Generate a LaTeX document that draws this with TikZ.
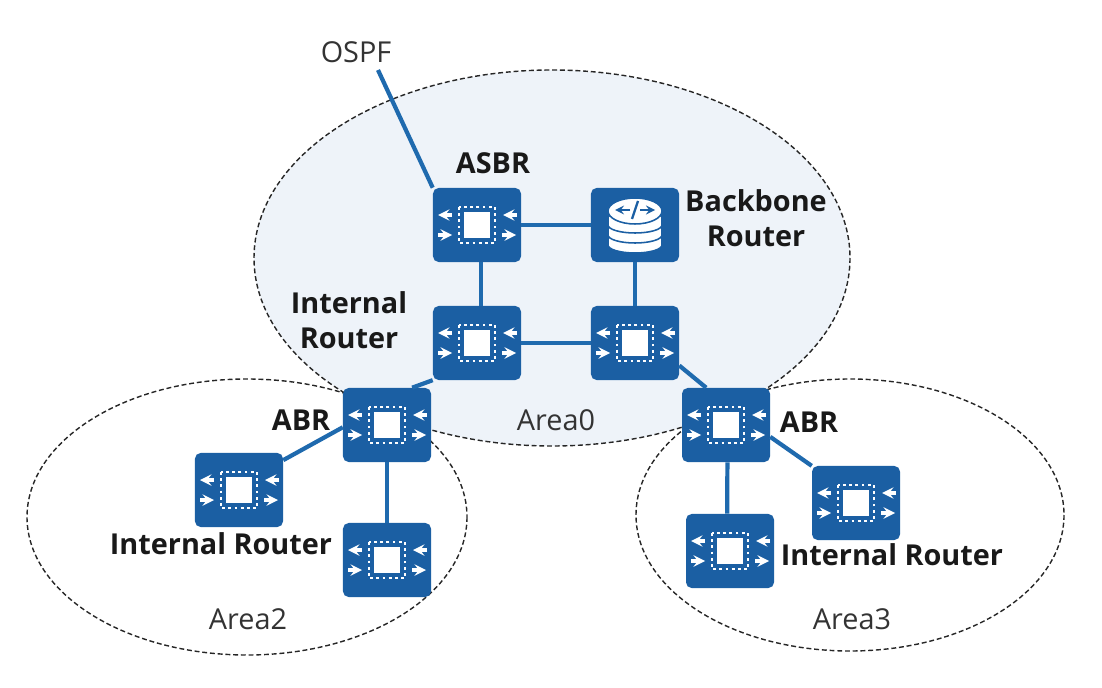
\documentclass[tikz,border=0pt]{standalone}
\usepackage{fontspec}
\setmainfont{Open Sans}
\usetikzlibrary{arrows}
\definecolor{hwblue}{HTML}{1B5FA3}
\definecolor{linkblue}{HTML}{1F6AAE}
\definecolor{areafill}{HTML}{EEF3F9}
% icon inside a router box
\newcommand{\chipicon}{
  \begin{scope}[sharp corners, shift={(path picture bounding box.center)}]
    \fill[white] (-13,-13) rectangle (13,13);
    \draw[white, line width=1.6pt, dash pattern=on 2pt off 2.4pt] (-18,-18) rectangle (18,18);
    \draw[wharrow] (-25,-10) -- (-39,-10);
    \draw[wharrow] (-39,10) -- (-25,10);
    \draw[wharrow] (40,-10) -- (26,-10);
    \draw[wharrow] (25,10) -- (39,10);
  \end{scope}
}
\newcommand{\stackicon}{
  \begin{scope}[sharp corners, shift={(path picture bounding box.center)}]
    \foreach \h in {13,3,-7} {
      \fill[white, draw=hwblue, line width=1.1pt] (-27,\h) -- (-27,\h+7) arc[start angle=180, end angle=0, x radius=27, y radius=8] -- (27,\h) arc[start angle=0, end angle=-180, x radius=27, y radius=8] -- cycle;
    }
    \fill[white, draw=hwblue, line width=1.1pt] (0,-14) ellipse[x radius=27, y radius=13];
    \draw[blarrow] (-5,-15) -- (-20,-15);
    \draw[blarrow] (5,-15) -- (20,-15);
    \draw[hwblue, line width=1.6pt] (3,-24) -- (-3,-6);
  \end{scope}
}
\tikzstyle{wharrow} = [white, line width=2.5pt, ->, >=stealth]
\tikzstyle{blarrow} = [hwblue, line width=1.8pt, ->, >=stealth]
\tikzstyle{router} = [rectangle, rounded corners=4pt, minimum width=2.2cm, minimum height=1.85cm, inner sep=0pt, fill=hwblue, path picture={\chipicon}]
\tikzstyle{backbone} = [rectangle, rounded corners=4pt, minimum width=2.2cm, minimum height=1.85cm, inner sep=0pt, fill=hwblue, path picture={\stackicon}]
\tikzstyle{area} = [draw=black!85, line width=1pt, dash pattern=on 3.5pt off 2pt]
\tikzstyle{link} = [linkblue, line width=3pt]
\tikzstyle{tag} = [font=\fontsize{20.5}{25}\selectfont\bfseries, text=black!90, align=center, inner sep=0pt]
\tikzstyle{arealabel} = [font=\fontsize{20.5}{26}\selectfont, text=black!80, inner sep=0pt]

\begin{document}
\begin{tikzpicture}[x=0.025cm, y=-0.025cm]
\useasboundingbox (0,0) rectangle (1102,688);

% areas
\draw[area, fill=areafill] (552,258) ellipse[x radius=298, y radius=188];
\draw[area] (247,517) ellipse[x radius=220, y radius=138];
\draw[area] (850,515) ellipse[x radius=214, y radius=136];

% routers
\node [router] (asbr) at (477,225) {};
\node [backbone] (bbone) at (635,225) {};
\node [router] (inner1) at (477,343) {};
\node [router] (inner2) at (635,343) {};
\node [router] (abr2) at (387,425) {};
\node [router] (abr3) at (726,425) {};
\node [router] (left2) at (239,490) {};
\node [router] (low2) at (387,560) {};
\node [router] (right3) at (856,503) {};
\node [router] (low3) at (730,551) {};

% links
\node [arealabel] (ospf) at (356,52) {OSPF};
\coordinate (ospfend) at (378,70);
\draw [link] (ospfend) -- (asbr.north west);
\draw [link] (asbr) -- (bbone);
\draw [link] ([xshift=3pt]asbr.south) -- ([xshift=3pt]inner1.north);
\draw [link] (bbone) -- (inner2);
\draw [link] (inner1) -- (inner2);
\draw [link] (inner1.220) -- (abr2.56);
\draw [link] (inner2.-27) -- (abr3.118);
\draw [link] (abr2.183) -- (left2.34);
\draw [link] (abr2) -- (low2);
\draw [link] (abr3.-15) -- (right3.140);
\draw [link] ([xshift=1pt]abr3.south) -- ([xshift=-2pt]low3.north);

% labels
\node [tag] (asbrtag) at (493,163) {ASBR};
\node [tag] (bbonetag) at (756,218) {Backbone\\Router};
\node [tag] (innertag) at (349,320) {Internal\\Router};
\node [tag] (abrtag2) at (301,420) {ABR};
\node [tag] (abrtag3) at (809,422) {ABR};
\node [tag] (lefttag) at (221,544) {Internal Router};
\node [tag] (righttag) at (892,555) {Internal Router};
\node [arealabel] (area0) at (556,420) {Area0};
\node [arealabel] (area2) at (248,619) {Area2};
\node [arealabel] (area3) at (852,619) {Area3};

\end{tikzpicture}
\end{document}
